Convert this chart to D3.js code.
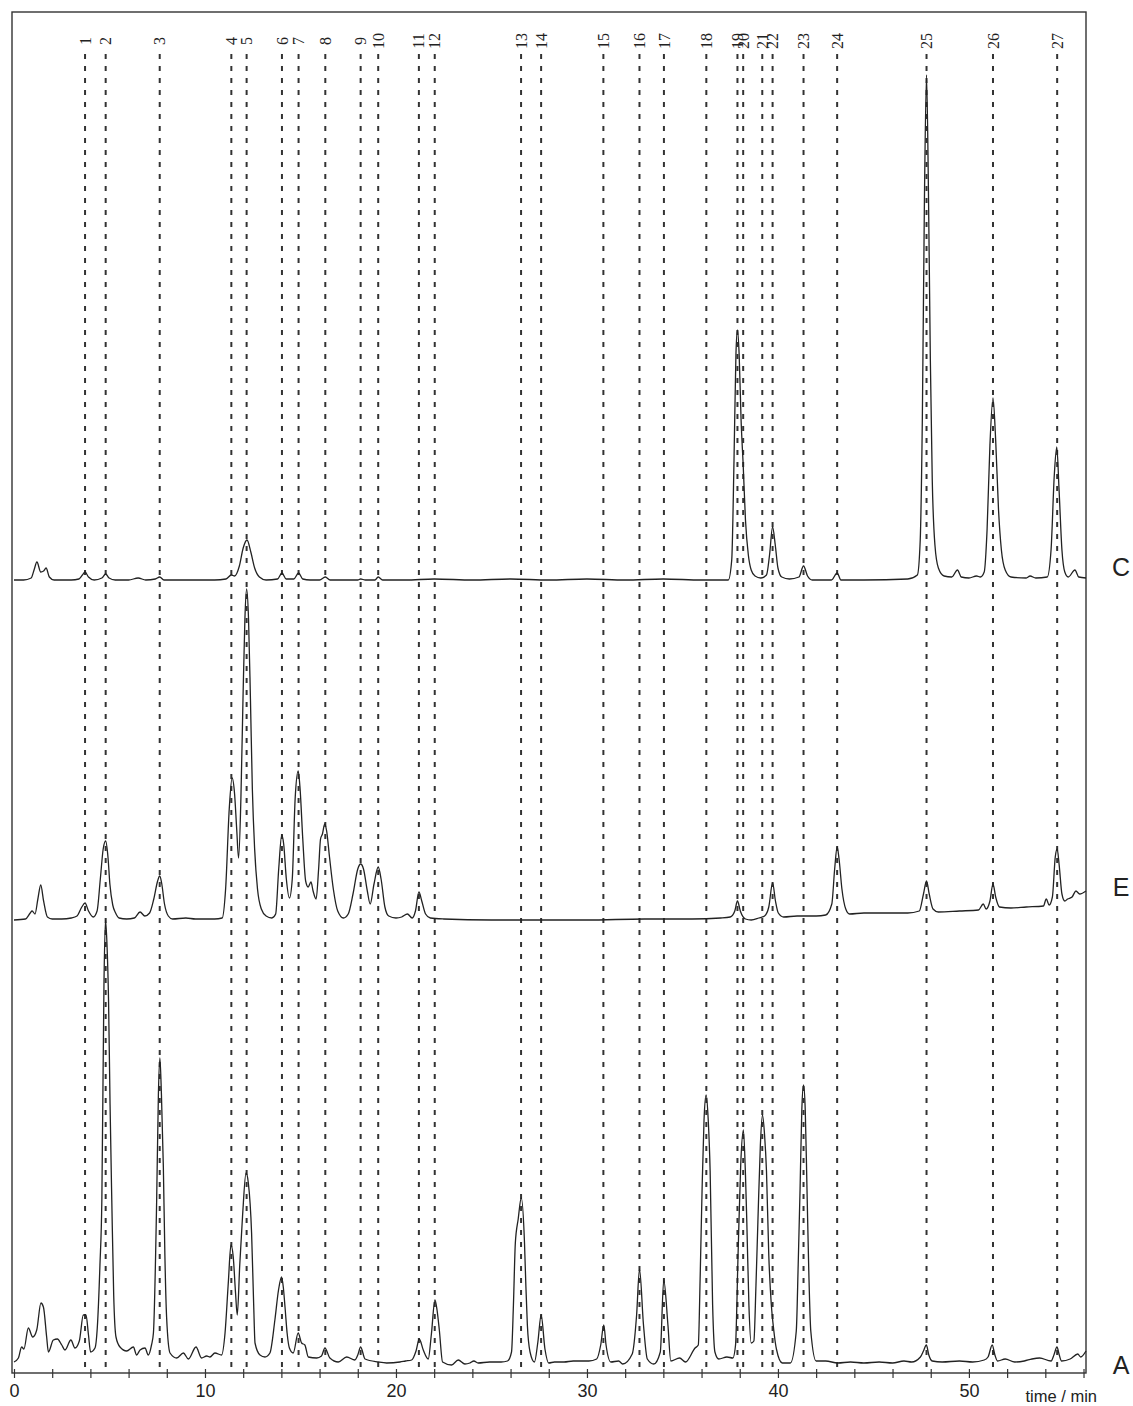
<!DOCTYPE html>
<html>
<head>
<meta charset="utf-8">
<script src="https://cdn.jsdelivr.net/npm/d3@7"></script>
<style>
  body { margin: 0; background: #fff; }
</style>
</head>
<body>
<script>
// peak numbers and their retention times (min)
const peakIds = d3.range(1, 28);
const peakTimes = [3.72, 4.8, 7.63, 11.38, 12.18, 14.03, 14.9, 16.3, 18.15, 19.07,
                   21.2, 22.03, 26.55, 27.6, 30.86, 32.75, 34.03, 36.25, 37.88, 38.18,
                   39.18, 39.72, 41.34, 43.1, 47.78, 51.26, 54.62];

const traceNames = ["C", "E", "A"];
const traceOffsets = [793, 454, 8];   // vertical offset of each chromatogram
const traceLabelLevels = [806, 486, 8];

// signal: [time (min), signal]
const traceC = [
  [0, 0], [0.5, 0], [0.9, 2], [1.05, 10], [1.2, 18], [1.4, 8], [1.55, 9], [1.68, 12], [1.85, 3], [2.1, 0],
  [2.6, 0], [3.0, 0], [3.4, 1], [3.58, 5], [3.72, 8], [3.9, 3], [4.2, 0], [4.6, 2], [4.8, 6], [4.98, 2],
  [5.3, 0], [6.0, 0], [6.5, 2], [6.9, 0], [7.4, 1], [7.63, 3], [7.85, 0], [9.0, 0], [10.5, 0], [11.1, 1],
  [11.38, 5], [11.55, 4], [11.8, 14], [12.0, 32], [12.2, 40], [12.4, 28], [12.6, 12], [12.85, 3], [13.2, 0], [13.8, 1],
  [14.03, 7], [14.25, 1], [14.65, 1], [14.9, 7], [15.12, 1], [15.5, 0], [16.0, 0], [16.3, 3], [16.55, 0], [18.0, 0],
  [18.15, 1], [18.4, 0], [18.9, 0], [19.07, 3], [19.3, 0], [20.5, 0], [22.0, 1], [24.0, 0], [26.0, 1], [28.0, 0],
  [30.0, 1], [32.0, 0], [34.0, 1], [36.0, 0], [37.4, 0], [37.58, 20], [37.7, 120], [37.8, 225], [37.88, 250], [37.97, 225],
  [38.07, 160], [38.18, 115], [38.3, 60], [38.45, 25], [38.6, 10], [38.8, 4], [39.1, 2], [39.4, 5], [39.56, 25], [39.72, 53],
  [39.86, 35], [40.0, 12], [40.2, 3], [40.6, 1], [41.1, 3], [41.34, 14], [41.55, 4], [41.8, 0], [42.8, 0], [43.1, 7],
  [43.3, 0], [44.5, 0], [46.8, 1], [47.3, 5], [47.45, 40], [47.56, 160], [47.67, 380], [47.78, 505], [47.88, 390], [47.98, 220],
  [48.08, 100], [48.22, 35], [48.4, 12], [48.7, 4], [49.1, 3], [49.4, 10], [49.6, 3], [50.0, 2], [50.4, 4], [50.6, 3],
  [50.8, 8], [50.95, 50], [51.1, 135], [51.26, 182], [51.4, 140], [51.55, 70], [51.7, 30], [51.9, 10], [52.2, 3], [53.0, 2],
  [53.2, 4], [53.5, 2], [54.1, 3], [54.3, 30], [54.47, 105], [54.6, 133], [54.72, 90], [54.87, 30], [55.02, 8], [55.2, 3],
  [55.55, 10], [55.75, 3], [56.13, 2]
];

const traceE = [
  [0, -1], [0.6, 0], [0.85, 6], [0.95, 8], [1.1, 5], [1.25, 20], [1.4, 34], [1.55, 18], [1.75, 2], [2.0, 0],
  [2.5, 0], [3.0, 1], [3.3, 3], [3.55, 12], [3.72, 16], [3.9, 8], [4.15, 2], [4.35, 8], [4.52, 40], [4.67, 70],
  [4.8, 78], [4.92, 62], [5.02, 35], [5.17, 14], [5.32, 6], [5.5, 1], [5.9, 0], [6.3, 1], [6.6, 7], [6.85, 3],
  [7.1, 6], [7.32, 20], [7.52, 38], [7.63, 43], [7.73, 36], [7.88, 15], [8.08, 3], [8.3, 0], [9.0, 1], [9.5, 0],
  [10.5, 0], [10.9, 1], [11.08, 30], [11.27, 110], [11.42, 141], [11.55, 125], [11.66, 90], [11.76, 61], [11.88, 120], [11.99, 220],
  [12.09, 300], [12.18, 330], [12.28, 300], [12.38, 220], [12.48, 130], [12.6, 70], [12.75, 30], [12.95, 10], [13.2, 3], [13.5, 1],
  [13.7, 5], [13.86, 50], [14.02, 84], [14.12, 75], [14.26, 40], [14.42, 21], [14.57, 40], [14.72, 120], [14.88, 148], [14.98, 130],
  [15.12, 80], [15.27, 38], [15.4, 32], [15.55, 37], [15.66, 28], [15.82, 20], [15.95, 50], [16.05, 80], [16.15, 85], [16.27, 95],
  [16.37, 88], [16.52, 62], [16.72, 30], [16.95, 8], [17.25, 1], [17.5, 5], [17.75, 25], [18.0, 50], [18.15, 55], [18.3, 50],
  [18.5, 28], [18.65, 15], [18.85, 35], [19.07, 52], [19.22, 40], [19.42, 12], [19.62, 3], [20.0, 1], [20.3, 2], [20.6, 5],
  [20.85, 1], [21.02, 8], [21.2, 27], [21.35, 18], [21.55, 5], [21.8, 1], [22.5, 0], [25.0, -1], [27.0, -1], [30.0, -1],
  [33.0, 0], [35.5, 0], [37.0, 1], [37.5, 2], [37.74, 8], [37.88, 18], [38.03, 8], [38.3, 0], [38.6, -1], [39.0, 1],
  [39.3, 3], [39.52, 12], [39.72, 36], [39.87, 18], [40.02, 6], [40.3, 2], [41.0, 3], [42.0, 3], [42.5, 4], [42.82, 15],
  [42.97, 50], [43.1, 72], [43.2, 60], [43.35, 30], [43.55, 10], [43.75, 5], [44.5, 6], [45.5, 6], [46.8, 6], [47.4, 8],
  [47.62, 25], [47.78, 38], [47.92, 25], [48.12, 10], [48.4, 7], [49.5, 8], [50.5, 9], [50.75, 15], [50.9, 10], [51.1, 18],
  [51.26, 35], [51.4, 22], [51.6, 12], [52.2, 11], [53.0, 12], [53.9, 13], [54.05, 20], [54.2, 14], [54.37, 22], [54.52, 62],
  [54.62, 70], [54.72, 55], [54.87, 25], [55.02, 18], [55.17, 20], [55.4, 22], [55.6, 28], [55.8, 25], [56.13, 28]
];

const traceA = [
  [0, 3], [0.23, 7], [0.4, 18], [0.52, 16], [0.75, 37], [0.98, 28], [1.19, 35], [1.41, 62], [1.54, 58], [1.71, 28],
  [1.8, 13], [2.06, 25], [2.27, 26], [2.5, 20], [2.67, 15], [2.98, 25], [3.19, 17], [3.42, 24], [3.63, 50], [3.77, 50],
  [3.9, 30], [4.01, 13], [4.24, 17], [4.36, 37], [4.5, 100], [4.6, 165], [4.71, 380], [4.79, 445], [4.87, 420], [4.95, 365],
  [5.03, 260], [5.12, 165], [5.22, 70], [5.34, 28], [5.55, 18], [5.9, 14], [6.25, 18], [6.42, 10], [6.6, 15], [6.86, 17],
  [7.03, 10], [7.2, 20], [7.3, 32], [7.47, 165], [7.56, 270], [7.64, 307], [7.72, 270], [7.82, 198], [7.9, 110], [7.99, 48],
  [8.17, 12], [8.52, 7], [8.87, 12], [9.13, 6], [9.53, 18], [9.82, 7], [10.09, 9], [10.26, 8], [10.52, 12], [10.87, 10],
  [11.05, 32], [11.22, 82], [11.36, 120], [11.48, 108], [11.6, 72], [11.69, 50], [11.82, 100], [11.97, 150], [12.15, 192], [12.27, 182],
  [12.44, 132], [12.55, 60], [12.62, 22], [12.88, 10], [13.14, 8], [13.4, 12], [13.66, 45], [13.85, 75], [14.01, 88], [14.1, 78],
  [14.19, 58], [14.3, 32], [14.42, 17], [14.62, 12], [14.88, 32], [15.06, 22], [15.23, 20], [15.41, 8], [15.85, 7], [16.1, 9],
  [16.28, 17], [16.54, 7], [16.98, 3], [17.42, 8], [17.85, 5], [18.0, 10], [18.15, 18], [18.38, 6], [19.07, 3], [19.51, 2],
  [20.21, 3], [20.5, 4], [20.82, 5], [21.05, 14], [21.22, 26], [21.43, 15], [21.69, 6], [21.85, 30], [22.04, 65], [22.15, 55],
  [22.27, 35], [22.44, 3], [22.91, 0], [23.26, 5], [23.61, 1], [23.87, 2], [24.08, 4], [24.3, 2], [24.9, 3], [25.5, 3],
  [25.84, 4], [26.05, 13], [26.15, 60], [26.25, 122], [26.4, 146], [26.56, 167], [26.73, 122], [26.8, 80], [26.88, 40], [27.02, 13],
  [27.25, 3], [27.43, 23], [27.6, 50], [27.8, 16], [28.0, 2], [28.3, 3], [28.8, 3], [29.28, 4], [29.7, 4], [30.1, 4],
  [30.51, 6], [30.72, 20], [30.88, 40], [31.0, 20], [31.25, 3], [31.66, 4], [31.87, 1], [32.37, 11], [32.6, 50], [32.75, 96],
  [32.96, 40], [33.16, 6], [33.5, 1], [33.84, 13], [34.02, 85], [34.24, 40], [34.39, 4], [34.85, 7], [35.16, 3], [35.66, 17],
  [35.83, 20], [35.93, 90], [36.03, 177], [36.13, 245], [36.24, 270], [36.35, 245], [36.45, 194], [36.58, 60], [36.7, 13], [36.9, 6],
  [37.33, 8], [37.64, 7], [37.78, 20], [37.91, 109], [38.05, 200], [38.19, 235], [38.3, 190], [38.37, 143], [38.48, 60], [38.6, 22],
  [38.74, 24], [38.85, 80], [38.95, 143], [39.08, 220], [39.19, 250], [39.3, 230], [39.4, 194], [39.52, 110], [39.65, 61], [39.78, 35],
  [39.92, 16], [40.23, 2], [40.65, 2], [40.96, 34], [41.06, 100], [41.16, 177], [41.25, 255], [41.34, 280], [41.43, 255], [41.52, 177],
  [41.62, 90], [41.72, 34], [42.0, 4], [42.5, 4], [43.13, 2], [43.8, 3], [44.5, 2], [45.3, 3], [46.0, 2], [46.6, 4],
  [47.0, 3], [47.46, 8], [47.62, 14], [47.77, 20], [47.9, 10], [48.08, 4], [48.6, 3], [49.5, 4], [50.2, 3], [50.8, 5],
  [51.0, 8], [51.22, 20], [51.36, 10], [51.5, 4], [51.9, 6], [52.4, 3], [52.9, 4], [53.3, 6], [53.7, 7], [54.3, 4],
  [54.45, 10], [54.61, 18], [54.73, 10], [54.85, 4], [55.3, 6], [55.7, 11], [55.85, 8], [56.13, 14]
];

const traces = [traceC, traceE, traceA];

const majorTicks = [0, 10, 20, 30, 40, 50];
const minorTicks = d3.range(0, 57, 2);

let width = 1133;
let height = 1406;
let svg = d3.select("body").append("svg")
            .attr("width", width)
            .attr("height", height);

let x = d3.scaleLinear().domain([0, 56.13]).range([14, 1086]);
let y = d3.scaleLinear().domain([0, 1361]).range([1373, 12]);

// frame
svg.append("rect")
   .attr("x", 12).attr("y", 12)
   .attr("width", 1074).attr("height", 1361)
   .attr("fill", "none")
   .attr("stroke", "#333")
   .attr("stroke-width", 1.4);

// dashed peak markers
svg.append("g").selectAll("line")
   .data(peakTimes)
   .enter().append("line")
   .attr("x1", d => x(d)).attr("x2", d => x(d))
   .attr("y1", 54).attr("y2", 1368)
   .attr("stroke", "#333")
   .attr("stroke-width", 2)
   .attr("stroke-dasharray", "5,7");

svg.append("g").selectAll("text")
   .data(peakIds)
   .enter().append("text")
   .attr("transform", (d, i) => `translate(${x(peakTimes[i])},41) rotate(-90)`)
   .attr("text-anchor", "middle")
   .attr("dy", "0.35em")
   .style("font-family", "'Liberation Serif', 'Times New Roman', serif")
   .style("font-size", "16px")
   .style("fill", "#222")
   .text(d => d);

// chromatograms
traces.forEach(function(tr, k) {
  let line = d3.line()
      .x(d => x(d[0]))
      .y(d => y(d[1] + traceOffsets[k]))
      .curve(d3.curveMonotoneX);
  svg.append("path")
     .datum(tr)
     .attr("d", line)
     .attr("fill", "none")
     .attr("stroke", "#222")
     .attr("stroke-width", 1.3)
     .attr("stroke-linejoin", "round");
});

svg.append("g").selectAll("text")
   .data(traceNames)
   .enter().append("text")
   .attr("x", 1121)
   .attr("y", (d, i) => y(traceLabelLevels[i]))
   .attr("text-anchor", "middle")
   .attr("dy", "0.35em")
   .style("font-family", "'Liberation Sans', Arial, sans-serif")
   .style("font-size", "25px")
   .style("fill", "#222")
   .text(d => d);

// time axis
let axis = d3.axisBottom(x)
    .tickValues(minorTicks)
    .tickSize(5)
    .tickFormat(d => majorTicks.includes(d) ? d : "");
let ax = svg.append("g")
    .attr("transform", "translate(0,1373)")
    .call(axis);
ax.select(".domain").remove();
ax.selectAll(".tick line").attr("stroke", "#333").attr("stroke-width", 1.2).attr("y1", -4);
ax.selectAll(".tick text")
  .attr("y", 11)
  .style("font-family", "'Liberation Sans', Arial, sans-serif")
  .style("font-size", "18px")
  .style("fill", "#222");

svg.append("text")
   .attr("x", 1097).attr("y", 1402)
   .attr("text-anchor", "end")
   .style("font-family", "'Liberation Sans', Arial, sans-serif")
   .style("font-size", "16.5px")
   .style("fill", "#222")
   .text("time / min");
</script>
</body>
</html>
